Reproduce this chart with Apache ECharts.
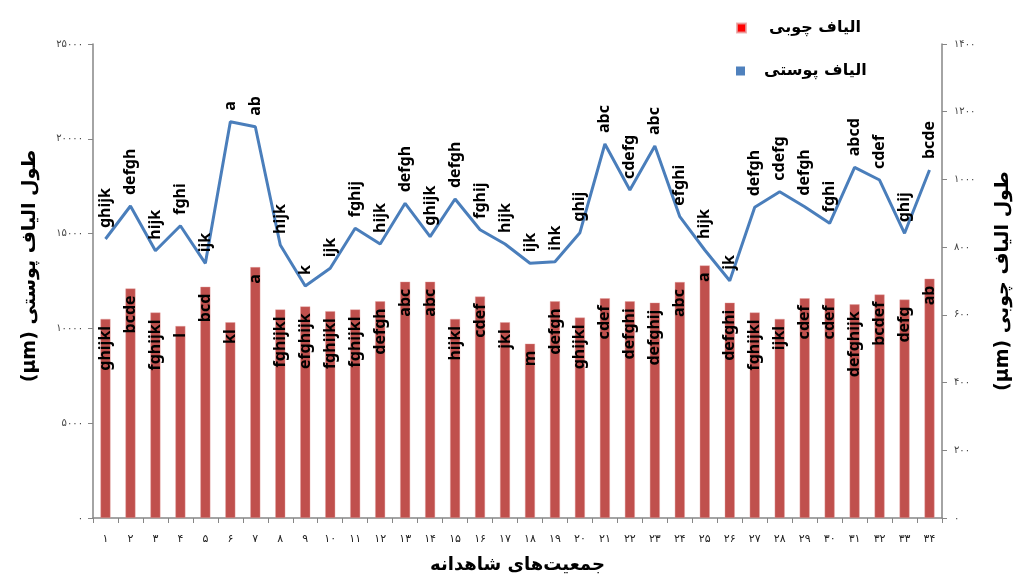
<!DOCTYPE html>
<html>
<head>
<meta charset="utf-8">
<script src="https://cdn.jsdelivr.net/npm/echarts@6/dist/echarts.min.js"></script>
<style>
  html, body { margin: 0; padding: 0; background: #fff; }
  #main { width: 1022px; height: 575px; }
</style>
</head>
<body>
<div id="main"></div>
<script>
// جمعیت‌ها 1..34
var categories = [];
for (var i = 1; i <= 34; i++) categories.push(i);

// طول الیاف چوبی (µm) - محور راست
var woodFiber = [588, 678, 607, 567, 683, 578, 741, 616, 625, 611, 616, 640, 698, 698, 588, 654, 578,
                 515, 640, 592, 649, 640, 636, 697, 746, 636, 607, 588, 649, 649, 631, 660, 645, 707];

// طول الیاف پوستی (µm) - محور چپ
var bastFiber = [14714, 16455, 14098, 15416, 13433, 20901, 20637, 14398, 12236, 13169, 15279, 14451, 16597, 14837, 16824, 15205, 14451,
                 13433, 13520, 15047, 19725, 17299, 19620, 15891, 14134, 12516, 16386, 17209, 16418, 15543, 18496, 17826, 15015, 18353];

var woodLetters = ['ghijkl','bcde','fghijkl','l','bcd','kl','a','fghijkl','efghijk','fghijkl','fghijkl','defgh','abc','abc','hijkl','cdef','jkl',
                   'm','defgh','ghijkl','cdef','defghi','defghij','abc','a','defghi','fghijkl','ijkl','cdef','cdef','defghijk','bcdef','defg','ab'];

var bastLetters = ['ghijk','defgh','hijk','fghi','ijk','a','ab','hijk','k','ijk','fghij','hijk','defgh','ghijk','defgh','fghij','hijk',
                   'ijk','ihk','ghij','abc','cdefg','abc','efghi','hijk','jk','defgh','cdefg','defgh','fghi','abcd','cdef','ghij','bcde'];

var faDigits = '۰۱۲۳۴۵۶۷۸۹';
function toFa(v) {
    return String(v).replace(/[0-9]/g, function (d) { return faDigits[+d]; });
}

var chart = echarts.init(document.getElementById('main'));
var faFont = 'DejaVu Sans';
var axisGray = '#868686';
var legendText = { fontFamily: faFont, fontWeight: 'bold', fontSize: 16, color: '#000' };

var option = {
    backgroundColor: '#ffffff',
    animation: false,
    grid: { left: 93, right: 80, top: 44, bottom: 57, outerBoundsMode: 'none', containLabel: false },
    legend: [
        {
            left: 731, top: 15,
            itemWidth: 9, itemHeight: 9, icon: 'rect',
            textStyle: Object.assign({ padding: [0, 0, 0, 18] }, legendText),
            data: [{ name: 'الیاف چوبی', itemStyle: { color: '#ff0000' } }]
        },
        {
            left: 731, top: 58,
            itemWidth: 9, itemHeight: 9, icon: 'rect',
            textStyle: Object.assign({ padding: [0, 0, 0, 14] }, legendText),
            data: [{ name: 'الیاف پوستی', itemStyle: { color: '#4f81bd' } }]
        }
    ],
    xAxis: {
        type: 'category',
        data: categories,
        name: 'جمعیت‌های شاهدانه',
        nameLocation: 'middle',
        nameGap: 38,
        nameTextStyle: { fontFamily: faFont, fontWeight: 'bold', fontSize: 18, color: '#000' },
        axisLine: { lineStyle: { color: axisGray, width: 1.5 } },
        axisTick: { show: true, length: 5, lineStyle: { color: axisGray } },
        axisLabel: { fontFamily: faFont, fontSize: 11, color: '#222', margin: 16, formatter: function (v) { return toFa(v); } }
    },
    yAxis: [
        {
            type: 'value',
            min: 0,
            max: 25000,
            interval: 5000,
            name: '(µm) طول الیاف پوستی',
            nameLocation: 'middle',
            nameRotate: 90,
            nameGap: 53,
            nameTextStyle: { fontFamily: faFont, fontWeight: 'bold', fontSize: 19, color: '#000', padding: [0, 0, 0, 30] },
            axisLine: { show: true, lineStyle: { color: axisGray, width: 1.5 } },
            axisTick: { show: true, length: 5, lineStyle: { color: axisGray } },
            axisLabel: { fontFamily: faFont, fontSize: 10, color: '#444', margin: 10, formatter: function (v) { return toFa(v); } },
            splitLine: { show: false }
        },
        {
            type: 'value',
            min: 0,
            max: 1400,
            interval: 200,
            name: '(µm) طول الیاف چوبی',
            nameLocation: 'middle',
            nameRotate: 90,
            nameGap: 52,
            nameTextStyle: { fontFamily: faFont, fontWeight: 'bold', fontSize: 19, color: '#000' },
            axisLine: { show: true, lineStyle: { color: axisGray, width: 1.5 } },
            axisTick: { show: true, length: 5, lineStyle: { color: axisGray } },
            axisLabel: { fontFamily: faFont, fontSize: 10, color: '#444', margin: 12, formatter: function (v) { return toFa(v); } },
            splitLine: { show: false }
        }
    ],
    series: [
        {
            name: 'الیاف چوبی',
            type: 'bar',
            yAxisIndex: 1,
            data: woodFiber,
            barWidth: 10,
            itemStyle: { color: '#c0504d', borderColor: 'rgba(230,160,160,0.8)', borderWidth: 0.5 },
            label: {
                show: true,
                position: 'insideTop',
                distance: 7,
                rotate: 90,
                align: 'right',
                verticalAlign: 'middle',
                fontFamily: 'Noto Sans',
                fontWeight: 'bold',
                fontSize: 16,
                color: '#000',
                formatter: function (p) { return woodLetters[p.dataIndex]; }
            },
            z: 1
        },
        {
            name: 'الیاف پوستی',
            type: 'line',
            yAxisIndex: 0,
            data: bastFiber,
            showSymbol: true,
            symbol: 'circle',
            symbolSize: 0.01,
            lineStyle: { color: '#4a7ebb', width: 3 },
            itemStyle: { color: '#4a7ebb' },
            label: {
                show: true,
                position: 'top',
                distance: 11,
                rotate: 90,
                align: 'left',
                verticalAlign: 'middle',
                fontFamily: 'Noto Sans',
                fontWeight: 'bold',
                fontSize: 16,
                color: '#000',
                formatter: function (p) { return bastLetters[p.dataIndex]; }
            },
            labelLayout: { hideOverlap: false },
            z: 2
        }
    ]
};

chart.setOption(option);
</script>
</body>
</html>
